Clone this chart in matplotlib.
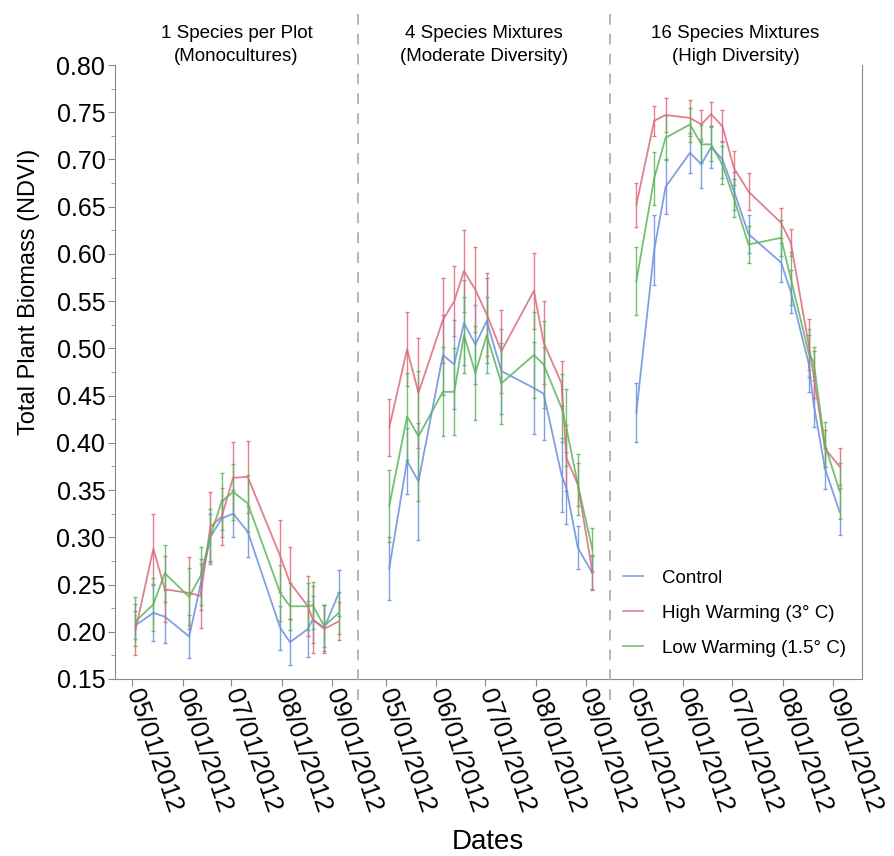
import datetime as dt
import matplotlib
matplotlib.use('Agg')
import matplotlib.pyplot as plt
import matplotlib.dates as mdates
from matplotlib.lines import Line2D
from matplotlib.ticker import MultipleLocator

plt.rcParams['font.family'] = ['Liberation Sans', 'DejaVu Sans']

# sampling dates (same for every panel)
dates = ['2012-05-03', '2012-05-14', '2012-05-21', '2012-06-05', '2012-06-12',
         '2012-06-18', '2012-06-25', '2012-07-02', '2012-07-11', '2012-07-31',
         '2012-08-06', '2012-08-17', '2012-08-20', '2012-08-27', '2012-09-05']

titles = ['1 Species per Plot\n(Monocultures)',
          '4 Species Mixtures\n(Moderate Diversity)',
          '16 Species Mixtures\n(High Diversity)']

series_names = ['Control', 'High Warming (3° C)', 'Low Warming (1.5° C)']

# panel 1: monocultures
mono_control = [0.207, 0.220, 0.216, 0.195, 0.250, 0.300, 0.320, 0.325, 0.306, 0.204, 0.189, 0.203, 0.213, 0.204, 0.241]
mono_control_se = [0.015, 0.030, 0.028, 0.023, 0.027, 0.025, 0.020, 0.025, 0.027, 0.023, 0.024, 0.030, 0.025, 0.024, 0.024]
mono_high = [0.202, 0.288, 0.245, 0.241, 0.238, 0.311, 0.322, 0.363, 0.364, 0.280, 0.252, 0.227, 0.213, 0.203, 0.211]
mono_high_se = [0.027, 0.037, 0.035, 0.038, 0.034, 0.037, 0.030, 0.038, 0.038, 0.038, 0.038, 0.032, 0.035, 0.025, 0.020]
mono_low = [0.211, 0.229, 0.262, 0.237, 0.259, 0.301, 0.338, 0.348, 0.336, 0.241, 0.227, 0.227, 0.228, 0.206, 0.220]
mono_low_se = [0.026, 0.028, 0.030, 0.030, 0.031, 0.029, 0.030, 0.030, 0.030, 0.030, 0.025, 0.025, 0.025, 0.022, 0.022]

# panel 2: 4 species
mix4_control = [0.267, 0.381, 0.359, 0.493, 0.483, 0.527, 0.504, 0.529, 0.476, 0.458, 0.452, 0.366, 0.352, 0.289, 0.262]
mix4_control_se = [0.033, 0.035, 0.062, 0.042, 0.047, 0.045, 0.042, 0.045, 0.045, 0.049, 0.049, 0.039, 0.038, 0.023, 0.018]
mix4_high = [0.416, 0.499, 0.453, 0.530, 0.550, 0.582, 0.562, 0.536, 0.497, 0.561, 0.506, 0.463, 0.384, 0.356, 0.263]
mix4_high_se = [0.030, 0.039, 0.058, 0.045, 0.037, 0.043, 0.045, 0.044, 0.044, 0.040, 0.044, 0.024, 0.035, 0.023, 0.018]
mix4_low = [0.333, 0.428, 0.407, 0.454, 0.454, 0.514, 0.474, 0.514, 0.463, 0.493, 0.483, 0.437, 0.416, 0.356, 0.287]
mix4_low_se = [0.038, 0.046, 0.069, 0.047, 0.046, 0.040, 0.050, 0.040, 0.043, 0.046, 0.046, 0.036, 0.041, 0.032, 0.023]

# panel 3: 16 species
mix16_control = [0.432, 0.604, 0.671, 0.707, 0.695, 0.713, 0.700, 0.667, 0.621, 0.591, 0.560, 0.484, 0.442, 0.373, 0.327]
mix16_control_se = [0.031, 0.037, 0.029, 0.021, 0.025, 0.022, 0.020, 0.020, 0.020, 0.021, 0.023, 0.030, 0.025, 0.022, 0.025]
mix16_high = [0.652, 0.741, 0.747, 0.744, 0.737, 0.748, 0.735, 0.691, 0.666, 0.633, 0.612, 0.504, 0.472, 0.394, 0.375]
mix16_high_se = [0.023, 0.016, 0.018, 0.019, 0.015, 0.013, 0.017, 0.018, 0.020, 0.016, 0.014, 0.027, 0.025, 0.020, 0.020]
mix16_low = [0.571, 0.680, 0.723, 0.737, 0.716, 0.716, 0.694, 0.659, 0.610, 0.617, 0.574, 0.495, 0.486, 0.398, 0.349]
mix16_low_se = [0.036, 0.028, 0.024, 0.018, 0.020, 0.018, 0.020, 0.020, 0.020, 0.019, 0.028, 0.025, 0.015, 0.024, 0.030]

panels = [
    [(mono_control, mono_control_se), (mono_high, mono_high_se), (mono_low, mono_low_se)],
    [(mix4_control, mix4_control_se), (mix4_high, mix4_high_se), (mix4_low, mix4_low_se)],
    [(mix16_control, mix16_control_se), (mix16_high, mix16_high_se), (mix16_low, mix16_low_se)],
]

colors = ['#6b8fdf', '#dc6a7c', '#5cb55c']
month_ticks = [dt.datetime(2012, m, 1) for m in range(5, 10)]

W, H = 895, 856
fig = plt.figure(figsize=(W / 100, H / 100), dpi=100)

# panel boxes in pixels: left, right
boxes = [(115, 358), (358, 609.5), (609.5, 861.5)]
# days before May 1 / after May 1 at panel edges
xlims = [(-10.6, 138.8), (-17.2, 137.5), (-14.5, 140.5)]
top_px, bot_px = 65, 679

x = mdates.datestr2num(dates)
may1 = mdates.date2num(dt.datetime(2012, 5, 1))
grey = '#8a8a8a'

axes = []
for i, ((l, r), (a, b)) in enumerate(zip(boxes, xlims)):
    ax = fig.add_axes([l / W, 1 - bot_px / H, (r - l) / W, (bot_px - top_px) / H])
    axes.append(ax)
    for (vals, se), c in zip(panels[i], colors):
        ax.errorbar(x, vals, yerr=se, color=c, lw=1.3, elinewidth=1.0,
                    capsize=1.5, capthick=1.0, alpha=0.85)
    ax.set_xlim(may1 + a, may1 + b)
    ax.set_ylim(0.15, 0.80)
    ax.set_xticks(mdates.date2num(month_ticks))
    ax.xaxis.set_major_formatter(mdates.DateFormatter('%m/%d/%Y'))
    for lab in ax.get_xticklabels():
        lab.set_rotation(-71)
        lab.set_ha('left')
        lab.set_va('center')
        lab.set_rotation_mode('anchor')
        lab.set_fontsize(18.5)
    ax.tick_params(axis='x', direction='out', length=5, color=grey, pad=3)
    ax.spines['top'].set_visible(False)
    ax.spines['bottom'].set_color(grey)
    ax.spines['left'].set_visible(i == 0)
    ax.spines['right'].set_visible(i == 2)
    ax.spines['left'].set_color(grey)
    ax.spines['right'].set_color(grey)
    if i == 0:
        ax.yaxis.set_major_locator(MultipleLocator(0.05))
        ax.yaxis.set_minor_locator(MultipleLocator(0.025))
        ax.yaxis.set_major_formatter(plt.FormatStrFormatter('%.2f'))
        ax.tick_params(axis='y', which='major', length=5, color=grey, labelsize=18, pad=2)
        ax.tick_params(axis='y', which='minor', length=3, color=grey)
        ax.set_ylabel('Total Plant Biomass (NDVI)', fontsize=17)
        ax.yaxis.set_label_coords(-0.31, 0.63)
    else:
        ax.tick_params(axis='y', which='both', left=False, labelleft=False)
    ax.set_title(titles[i], fontsize=13.5, linespacing=1.45, pad=-2,
                 family=['Liberation Sans Narrow', 'Liberation Sans'])

# dashed separators between panels
for xp in (358, 609.5):
    fig.add_artist(Line2D([xp / W, xp / W], [1 - 700 / H, 1 - 5 / H],
                          transform=fig.transFigure, color='#b0b0b0',
                          lw=1.3, dashes=(6, 5)))

handles = [Line2D([], [], color=c, lw=1.2, alpha=0.85) for c in colors]
fig.legend(handles, series_names, loc='upper left',
           bbox_to_anchor=(606 / W, 1 - 553 / H), frameon=False,
           fontsize=13.5, handlelength=1.1, handletextpad=1.0, labelspacing=0.95)

fig.text(488 / W, 1 - 842 / H, 'Dates', ha='center', va='center', fontsize=20)

fig.savefig('out.png', dpi=100)
